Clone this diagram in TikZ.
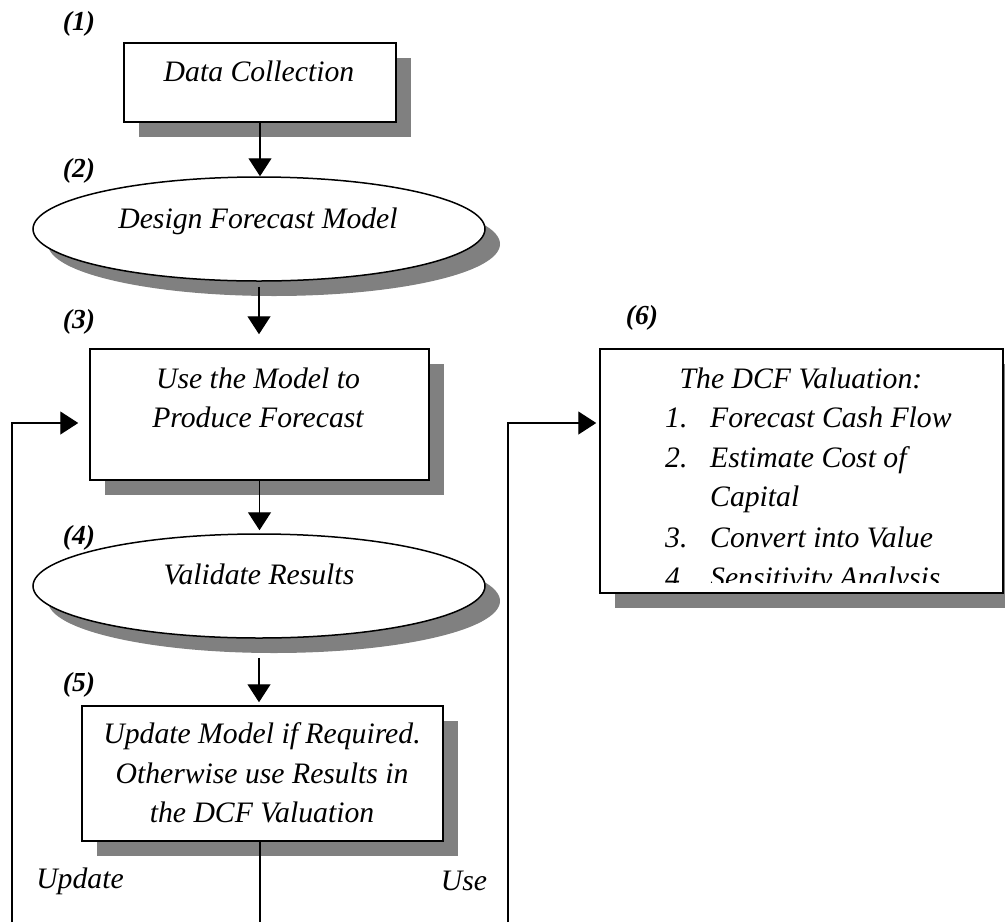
\documentclass[tikz,border=0pt]{standalone}
\usepackage{fontspec}
\setmainfont{Liberation Serif}
\usetikzlibrary{shapes.geometric, shadows, arrows.meta}
\definecolor{shadowgray}{HTML}{808080}
\tikzset{
  shadebox/.style={draw, line width=1.5pt, fill=white, inner sep=0pt,
    drop shadow={shadow xshift=15pt, shadow yshift=-15pt, fill=shadowgray, opacity=1}},
  stepbox/.style={shadebox, rectangle},
  stepoval/.style={shadebox, ellipse},
  txt/.style={inner sep=0pt, anchor=base, font=\fontsize{29.7}{40}\selectfont\itshape},
  numlabel/.style={inner sep=0pt, font=\fontsize{27.5}{30}\selectfont\bfseries\itshape},
  flow/.style={line width=1.3pt, -{Triangle[length=18pt, width=23pt]}},
  link/.style={line width=1.3pt},
}
\begin{document}
\begin{tikzpicture}[x=1pt, y=-1pt]
\useasboundingbox (0,0) rectangle (1005,922);

% process steps
\node[stepbox, minimum width=272pt, minimum height=79pt] (b1) at (260,82.5) {};
\node[stepoval, minimum width=452pt, minimum height=104pt] (e2) at (259,229) {};
\node[stepbox, minimum width=339pt, minimum height=131pt] (b3) at (259.5,414.5) {};
\node[stepoval, minimum width=452pt, minimum height=104pt] (e4) at (259,586) {};
\node[stepbox, minimum width=361pt, minimum height=135pt] (b5) at (262.5,773.5) {};
\node[stepbox, minimum width=403pt, minimum height=244pt] (b6) at (801.5,471) {};

% step texts
\node[txt] (t1) at (259,81.5) {Data Collection};
\node[txt] (t2) at (258,228) {Design Forecast Model};
\node[txt] (t3a) at (258,388) {Use the Model to};
\node[txt] (t3b) at (258,427) {Produce Forecast};
\node[txt] (t4) at (259,584) {Validate Results};
\node[txt] (t5a) at (262,743) {Update Model if Required.};
\node[txt] (t5b) at (262,783) {Otherwise use Results in};
\node[txt] (t5c) at (262,822) {the DCF Valuation};

% valuation list, cut off at the bottom of its box
\begin{scope}
  \clip (601,350) rectangle (1002,582);
  \node[txt] (t6) at (801,388) {The DCF Valuation:};
  \node[txt, anchor=base west] (n1) at (665,427) {1.};
  \node[txt, anchor=base west] (i1) at (710,427) {Forecast Cash Flow};
  \node[txt, anchor=base west] (n2) at (665,467) {2.};
  \node[txt, anchor=base west] (i2) at (710,467) {Estimate Cost of};
  \node[txt, anchor=base west] (i2b) at (710,506) {Capital};
  \node[txt, anchor=base west] (n3) at (665,547) {3.};
  \node[txt, anchor=base west] (i3) at (710,547) {Convert into Value};
  \node[txt, anchor=base west] (n4) at (665,587) {4.};
  \node[txt, anchor=base west] (i4) at (710,587) {Sensitivity Analysis};
\end{scope}

% step numbers
\node[numlabel] (l1) at (79,24) {(1)};
\node[numlabel] (l2) at (79,171) {(2)};
\node[numlabel] (l3) at (79,322) {(3)};
\node[numlabel] (l4) at (79,538) {(4)};
\node[numlabel] (l5) at (79,685) {(5)};
\node[numlabel] (l6) at (642,318) {(6)};

% main flow
\draw[flow] (b1.south) -- (b1.south |- e2.north);
\draw[flow, shorten <=5pt, shorten >=14pt] (e2.south) -- (e2.south |- b3.north);
\draw[flow, shorten >=3pt] (b3.south) -- (b3.south |- e4.north);
\draw[flow, shorten <=19pt, shorten >=3pt] (e4.south) -- (e4.south |- b5.north);

% feedback and output branches
\coordinate (downM) at (260,922);
\coordinate (downL) at (12,922);
\coordinate (downR) at (508,922);
\coordinate (turnL) at (12,423);
\coordinate (turnR) at (508,423);
\draw[link] (b5.south -| downM) -- (downM);
\draw[flow, shorten >=11pt] (downL) -- (turnL) -- (turnL -| b3.west);
\draw[flow, shorten >=3pt] (downR) -- (turnR) -- (turnR -| b6.west);

\node[txt] (upd) at (80,888) {Update};
\node[txt] (use) at (464,890) {Use};
\end{tikzpicture}
\end{document}
